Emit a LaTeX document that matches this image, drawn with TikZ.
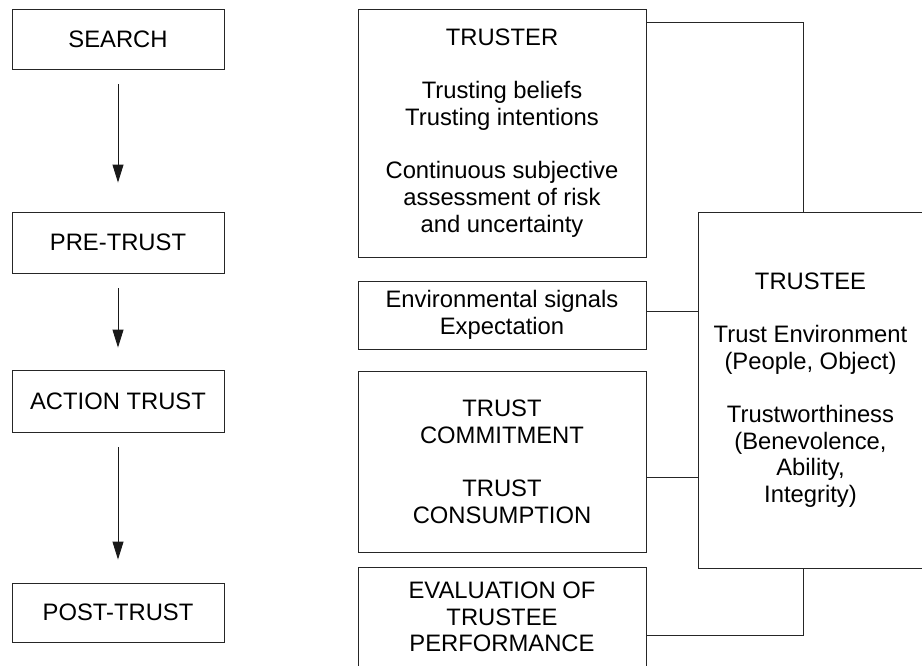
\documentclass[tikz,border=0pt]{standalone}
\usepackage{fontspec}
\setmainfont{Liberation Sans}
\usetikzlibrary{arrows.meta}
\tikzset{
  box/.style={draw=black!85, line width=0.9pt, align=center, inner sep=0pt,
    font=\fontsize{23.8}{26.7}\selectfont, text=black},
  link/.style={draw=black!85, line width=0.9pt},
  flow/.style={draw=black!90, line width=0.9pt, -{Triangle[length=18pt,width=11pt]}}
}
\begin{document}
\begin{tikzpicture}[x=1pt,y=-1pt]
\useasboundingbox (0,0) rectangle (922,665);
\clip (0,0) rectangle (922,665);
% left column
\node[box, minimum width=212pt, minimum height=60pt] (search) at (118,39) {SEARCH};
\node[box, minimum width=212pt, minimum height=61pt] (pre) at (118,242.5) {PRE-TRUST};
\node[box, minimum width=212pt, minimum height=62pt] (action) at (118,401) {ACTION TRUST};
\node[box, minimum width=212pt, minimum height=59pt] (post) at (118,612.5) {POST-TRUST};
\draw[flow, shorten <=15pt, shorten >=29pt] (search.south) -- (pre.north);
\draw[flow, shorten <=15pt, shorten >=22pt] (pre.south) -- (action.north);
\draw[flow, shorten <=15pt, shorten >=23pt] (action.south) -- (post.north);
% middle column
\node[box, minimum width=288pt, minimum height=248pt] (truster) at (502,133)
  {TRUSTER\\[26.7pt]Trusting beliefs\\Trusting intentions\\[26.7pt]Continuous subjective\\assessment of risk\\and uncertainty};
\node[box, minimum width=288pt, minimum height=68pt] (env) at (502,315)
  {Environmental signals\\Expectation};
\node[box, minimum width=288pt, minimum height=181pt] (trust) at (502,461.5)
  {TRUST\\COMMITMENT\\[26.7pt]TRUST\\CONSUMPTION};
\node[box, minimum width=288pt, minimum height=100pt] (eval) at (502,617)
  {EVALUATION OF\\TRUSTEE\\PERFORMANCE};
% right
\node[box, minimum width=225pt, minimum height=356pt] (trustee) at (810.5,390)
  {TRUSTEE\\[26.7pt]Trust Environment\\(People, Object)\\[26.7pt]Trustworthiness\\(Benevolence,\\Ability,\\Integrity)};
% connectors
\draw[link] ([yshift=-14pt]truster.north east) -| ([xshift=-7.5pt]trustee.north);
\draw[link] ([yshift=4pt]env.east) -- ([yshift=4pt]env.east -| trustee.west);
\draw[link] ([yshift=-15.5pt]trust.east) -- ([yshift=-15.5pt]trust.east -| trustee.west);
\draw[link] ([yshift=-18pt]eval.east) -| ([xshift=-7.5pt]trustee.south);
\end{tikzpicture}
\end{document}
